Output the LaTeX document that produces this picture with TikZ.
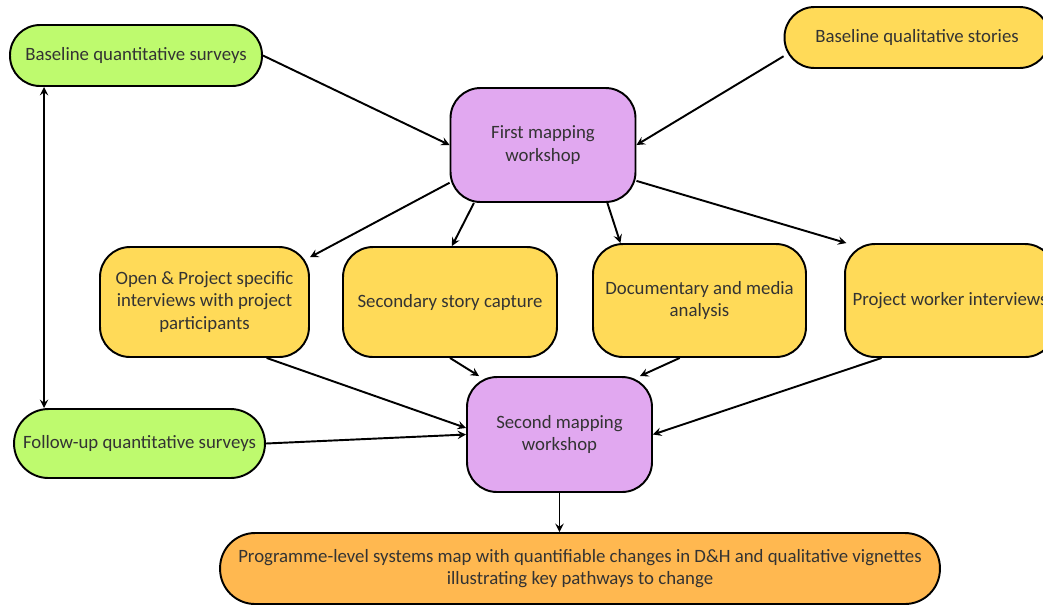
\documentclass[tikz,border=0pt]{standalone}
\usepackage{fontspec}
\setmainfont{Carlito}
\usetikzlibrary{arrows}
\definecolor{surveygreen}{RGB}{190,250,110}
\definecolor{storyyellow}{RGB}{255,218,88}
\definecolor{workshoppurple}{RGB}{225,168,240}
\definecolor{resultorange}{RGB}{255,184,80}
\tikzstyle{pill} = [rectangle, rounded corners=0.6cm, minimum height=1.22cm, text centered, draw=black, line width=1.1pt, text=black!80]
\tikzstyle{survey} = [pill, fill=surveygreen, minimum width=5.04cm]
\tikzstyle{story} = [rectangle, rounded corners=0.6cm, minimum width=4.22cm, minimum height=2.2cm, align=center, draw=black, line width=1.1pt, fill=storyyellow, text=black!80]
\tikzstyle{workshop} = [rectangle, rounded corners=0.6cm, minimum width=3.7cm, minimum height=2.28cm, align=center, draw=black, line width=1.1pt, fill=workshoppurple, text=black!80]
\tikzstyle{arrow} = [line width=1.1pt,->,>=stealth]
\tikzstyle{dblarrow} = [line width=1.1pt,<->,>=stealth]
\begin{document}
\begin{tikzpicture}[x=0.02cm, y=-0.02cm, font=\fontsize{10.7}{12.8}\selectfont]

  \useasboundingbox (0,0) rectangle (1043,606);

  \node (bqs) [survey] at (136,55.5) {Baseline quantitative surveys};
  \node (bql) [pill, fill=storyyellow, minimum width=5.3cm] at (917,37.5) {Baseline qualitative stories};
  \node (first) [workshop] at (543,145) {First mapping\\workshop};
  \node (open) [story, minimum width=4.18cm] at (204.5,302) {Open \& Project specific\\interviews with project\\participants};
  \node (sec) [story, minimum width=4.28cm] at (450,302) {Secondary story capture};
  \node (doc) [story, minimum width=4.26cm, minimum height=2.26cm] at (699.5,300.5) {Documentary and media\\analysis};
  \node (pwi) [story, minimum width=4.2cm, minimum height=2.26cm] at (950,300.5) {Project worker interviews};
  \node (fup) [survey, minimum width=5.02cm, minimum height=1.38cm, rounded corners=0.69cm] at (139.5,443.5) {Follow-up quantitative surveys};
  \node (second) [workshop, minimum height=2.3cm] at (559.5,434.5) {Second mapping\\workshop};
  \node (prog) [pill, fill=resultorange, minimum width=14.4cm, minimum height=1.42cm, rounded corners=0.7cm, align=center] at (580,568.5) {Programme-level systems map with quantifiable changes in D\&H and qualitative vignettes\\illustrating key pathways to change};

  \draw [arrow] (bqs.east) -- (first.west);
  \draw [arrow] (bql.188) -- (first.east);
  \draw [arrow] (first.202) -- (open.23);
  \draw [arrow] (first.220) -- (sec.88);
  \draw [arrow] (first.318) -- (doc.144);
  \draw [arrow] (first.339) -- (pwi.151);
  \draw [arrow] (open.318) -- (second.176);
  \draw [arrow] (sec.south) -- (second.144);
  \draw [arrow] (doc.251) -- (second.36);
  \draw [arrow] (pwi.220) -- (second.east);
  \draw [arrow] (fup.east) -- (second.west);
  \draw [arrow] (second.south) -- (second.south |- prog.north);
  \draw [dblarrow] ([xshift=0.7cm]bqs.south west) -- ([xshift=0.7cm]bqs.south west |- fup.north);

\end{tikzpicture}
\end{document}
